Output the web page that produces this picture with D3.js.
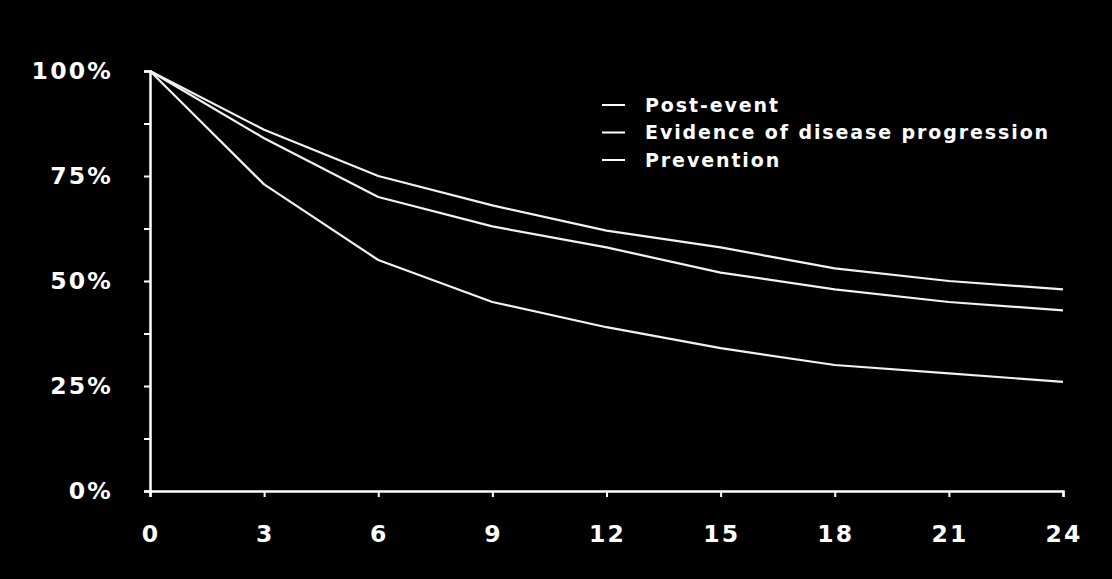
<!DOCTYPE html>
<html><head><meta charset="utf-8">
<script src="https://cdn.jsdelivr.net/npm/d3@7"></script>
<style>html,body{margin:0;padding:0;background:#000;}svg{display:block;}</style>
</head><body>
<svg id="c" width="1112" height="579"></svg>
<script>
const months = [0, 3, 6, 9, 12, 15, 18, 21, 24];
const postEvent = [100, 86, 75, 68, 62, 58, 53, 50, 48];
const diseaseProgression = [100, 84, 70, 63, 58, 52, 48, 45, 43];
const prevention = [100, 73, 55, 45, 39, 34, 30, 28, 26];
const seriesNames = ["Post-event", "Evidence of disease progression", "Prevention"];
const yTickLabels = [0, 25, 50, 75, 100];

const svg = d3.select("#c");
const x = d3.scaleLinear().domain([0, 24]).range([150, 1063]);
const y = d3.scaleLinear().domain([0, 100]).range([491, 71]);
const font = "'DejaVu Sans', Verdana, sans-serif";

// axes
const yAxis = svg.append("g").attr("transform", "translate(150,0)")
  .call(d3.axisLeft(y).tickValues(d3.range(0, 100.1, 12.5)).tickSize(6).tickFormat(""));
const xAxis = svg.append("g").attr("transform", "translate(0,491)")
  .call(d3.axisBottom(x).tickValues(months).tickSize(6).tickFormat(""));
[yAxis, xAxis].forEach(g => {
  g.selectAll("path").attr("stroke", "#fff").attr("stroke-width", 2.5);
  g.selectAll("line").attr("stroke", "#fff").attr("stroke-width", 2);
});

svg.append("g").selectAll("text").data(yTickLabels).join("text")
  .attr("x", 113).attr("y", d => y(d)).attr("dy", "0.36em")
  .attr("text-anchor", "end").attr("fill", "#fff")
  .attr("font-family", font).attr("font-weight", "bold").attr("font-size", 23.5)
  .attr("letter-spacing", 2.2)
  .text(d => d + "%");

svg.append("g").selectAll("text").data(months).join("text")
  .attr("x", d => x(d) + 1.1).attr("y", 542)
  .attr("text-anchor", "middle").attr("fill", "#fff")
  .attr("font-family", font).attr("font-weight", "bold").attr("font-size", 23.5)
  .attr("letter-spacing", 2.2)
  .text(d => d);

// lines
const line = d3.line().x((d, i) => x(months[i])).y(d => y(d));
[postEvent, diseaseProgression, prevention].forEach(s => {
  svg.append("path").datum(s).attr("d", line)
    .attr("fill", "none").attr("stroke", "#f2f2f2").attr("stroke-width", 2.2)
    .attr("stroke-linejoin", "round");
});

// legend
const leg = svg.append("g");
seriesNames.forEach((n, i) => {
  const ly = 105 + i * 27.5;
  leg.append("line").attr("x1", 602).attr("x2", 625).attr("y1", ly).attr("y2", ly)
    .attr("stroke", "#fff").attr("stroke-width", 2);
  leg.append("text").attr("x", 645).attr("y", ly).attr("dy", "0.36em")
    .attr("fill", "#fff").attr("font-family", font).attr("font-weight", "bold")
    .attr("font-size", 19).attr("letter-spacing", 1.9).text(n);
});
</script>
</body></html>
